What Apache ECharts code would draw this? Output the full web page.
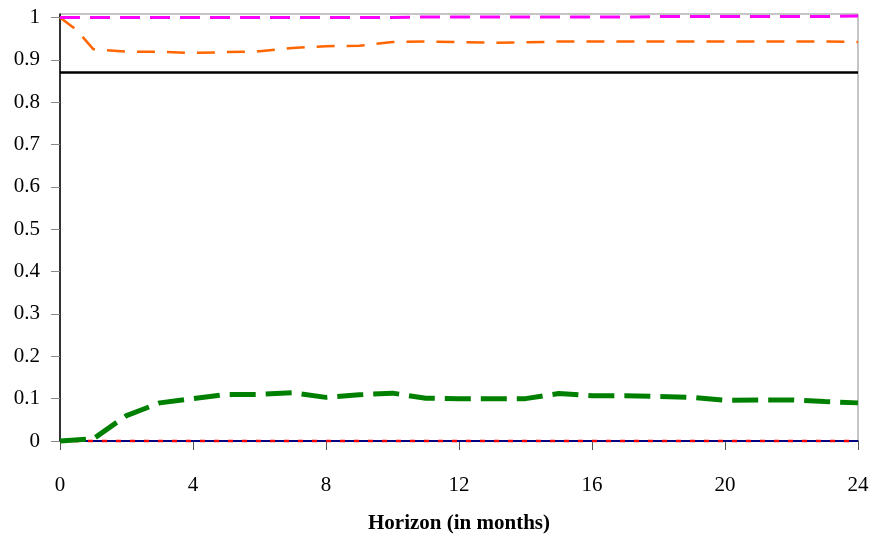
<!DOCTYPE html>
<html><head><meta charset="utf-8">
<script src="https://cdn.jsdelivr.net/npm/echarts@6/dist/echarts.min.js"></script>
<style>html,body{margin:0;padding:0;background:#fff}#c{width:875px;height:537px}</style>
</head><body><div id="c"></div>
<script>
const months = [0,1,2,3,4,5,6,7,8,9,10,11,12,13,14,15,16,17,18,19,20,21,22,23,24];
const greenVals = [0,0.005,0.06,0.09,0.1,0.11,0.11,0.114,0.103,0.109,0.113,0.101,0.1,0.1,0.1,0.112,0.107,0.107,0.105,0.103,0.096,0.097,0.097,0.093,0.09];
const orangeX = [0,0.5,1,2,3,4,5,6,7,8,9,10,11,12,13,14,15,16,17,18,19,20,21,22,23,24];
const orangeVals = [1.0,0.97,0.925,0.919,0.919,0.916,0.918,0.92,0.928,0.932,0.933,0.942,0.943,0.942,0.94,0.941,0.943,0.943,0.943,0.943,0.943,0.943,0.943,0.943,0.943,0.942];
const magentaVals = [1.0,1.0,1.0,1.0,1.0,1.0,1.0,1.0,1.0,1.0,1.0,1.001,1.001,1.001,1.001,1.001,1.001,1.001,1.002,1.002,1.002,1.002,1.002,1.002,1.003];
const redVals = months.map(()=>0);
const navyVals = months.map(()=>0);
const blackVals = months.map(()=>0.87);
const yTicks = [0,0.1,0.2,0.3,0.4,0.5,0.6,0.7,0.8,0.9,1];
const xTicks = [0,4,8,12,16,20,24];
const xTitle = 'Horizon (in months)';

const pair = (xs, ys) => xs.map((x,i)=>[x, ys[i]]);
const font = '"Liberation Serif", "DejaVu Serif", serif';
function line(data, color, width, type, z){
  return {type:'line', data, showSymbol:false, symbol:'none', clip:false, z,
    lineStyle:{color, width, type}};
}
const chart = echarts.init(document.getElementById('c'), null, {renderer:'canvas'});
chart.setOption({
  animation:false,
  backgroundColor:'#fff',
  grid:{left:60, right:17, top:14, bottom:96, containLabel:false, outerBoundsMode:'none',
    show:true, borderColor:'#8c8c8c', borderWidth:1},
  xAxis:{type:'value', min:0, max:24, interval:4,
    name:xTitle, nameLocation:'middle', nameGap:72,
    nameTextStyle:{fontFamily:font, fontSize:21, fontWeight:'bold', color:'#000'},
    axisLine:{lineStyle:{color:'#000', width:1.5}},
    axisTick:{length:9, lineStyle:{color:'#555'}, customValues:xTicks},
    axisLabel:{fontFamily:font, fontSize:21, color:'#000', margin:34, customValues:xTicks},
    splitLine:{show:false}},
  yAxis:{type:'value', min:0, max:1.008,
    axisLine:{show:true, lineStyle:{color:'#000', width:1.5}},
    axisTick:{show:true, length:9, lineStyle:{color:'#888'}, customValues:yTicks},
    axisLabel:{fontFamily:font, fontSize:21, color:'#000', margin:20, customValues:yTicks,
      formatter:v=>String(Math.round(v*10)/10)},
    splitLine:{show:false}},
  series:[
    line(pair(months, navyVals), '#000080', 2, 'solid', 2),
    line(pair(months, redVals), '#ff0000', 2.5, [5,9], 3),
    line(pair(months, greenVals), '#008000', 5, [26,10], 4),
    line(pair(orangeX, orangeVals), '#ff6600', 2.5, [18,12], 5),
    line(pair(months, magentaVals), '#ff00ff', 3, [20,10], 6),
    line(pair(months, blackVals), '#000000', 2.5, 'solid', 7)
  ]
});
</script></body></html>
